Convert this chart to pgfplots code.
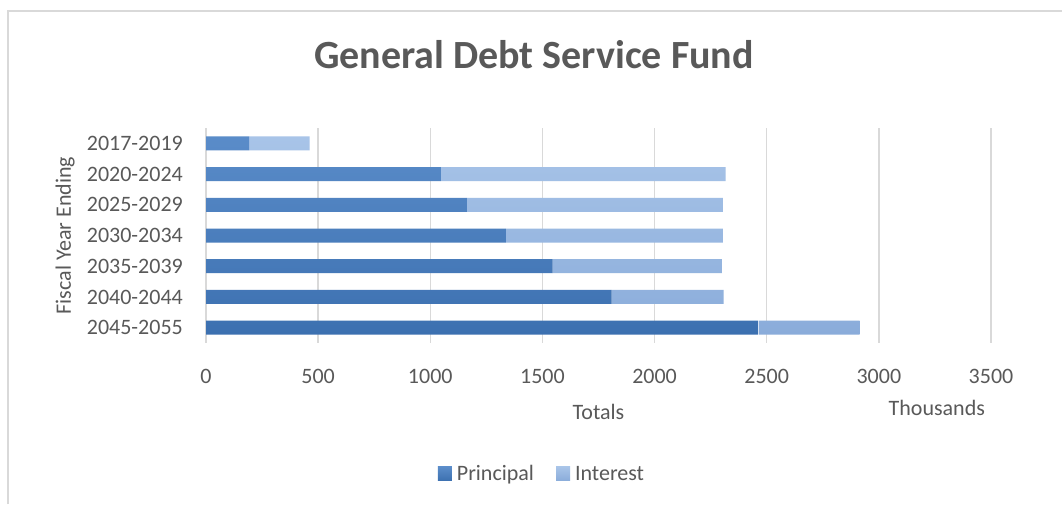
\documentclass[border=0pt]{standalone}
\usepackage{pgfplots}
\pgfplotsset{compat=1.18}
\usepackage{fontspec}
\setmainfont{Carlito}
\definecolor{txt}{HTML}{595959}
\definecolor{gridc}{HTML}{D9D9D9}
\definecolor{pTop}{HTML}{5A8CC9}
\definecolor{pBot}{HTML}{3C70B0}
\definecolor{iTop}{HTML}{A8C4E8}
\definecolor{iBot}{HTML}{8AACDA}
\begin{document}
\begin{tikzpicture}
\useasboundingbox[fill=white] (0,0) rectangle (1062pt,504pt);
\draw[gridc, line width=2pt] (8pt,0) -- (8pt,493pt) -- (1062pt,493pt);
\begin{axis}[
  at={(206pt,161pt)}, anchor=south west,
  scale only axis, width=785pt, height=215pt,
  xbar stacked, bar width=14pt,
  xmin=0, xmax=3500, ymin=-0.5, ymax=6.5,
  y dir=reverse,
  ytick={0,1,2,3,4,5,6},
  yticklabels={2017-2019,2020-2024,2025-2029,2030-2034,2035-2039,2040-2044,2045-2055},
  xtick={0,500,1000,1500,2000,2500,3000,3500},
  /pgf/number format/assume math mode=true,
  /pgf/number format/.cd, 1000 sep={}, /pgfplots/.cd,
  axis x line*=bottom, axis y line*=left,
  x axis line style={draw=none},
  y axis line style={draw=gridc, line width=1.5pt},
  major tick length=0pt,
  xmajorgrids, grid style={draw=gridc, line width=1.5pt},
  tick label style={font=\fontsize{22}{26}\selectfont, text=txt},
  xticklabel style={anchor=base, inner sep=0pt, yshift=-40pt},
  yticklabel style={anchor=east, inner sep=0pt, xshift=-23pt},
  title={General Debt Service Fund},
  title style={at={(axis description cs:0.4178,1.247)}, anchor=base, font=\fontsize{40}{46}\selectfont\bfseries, text=txt, inner sep=0pt},
  xlabel={Totals},
  xlabel style={at={(axis description cs:0.5,-0.3535)}, anchor=base, inner sep=0pt, font=\fontsize{22}{26}\selectfont, text=txt},
  ylabel={Fiscal Year Ending},
  ylabel style={at={(axis description cs:-0.1796,0.5)}, anchor=center, inner sep=0pt, font=\fontsize{22}{26}\selectfont, text=txt},
  legend columns=2,
  legend style={at={(0.428,-0.609)}, anchor=center, draw=none, fill=none,
    font=\fontsize{22}{26}\selectfont, text=txt,
    /tikz/every even column/.append style={column sep=20pt},
    /tikz/every odd column/.append style={column sep=3pt},
    inner sep=0pt},
  legend cell align=left,
  clip=false,
]
\addplot[draw=none, top color=pTop, bottom color=pBot,
  legend image code/.code={\fill[pBot!85!pTop] (0pt,-7pt) rectangle (14pt,7pt);}]
  coordinates {(192,0) (1047,1) (1163,2) (1337,3) (1545,4) (1809,5) (2464,6)};
\addlegendentry{Principal}
\addplot[draw=none, top color=iTop, bottom color=iBot,
  legend image code/.code={\fill[iBot!70!iTop] (0pt,-7pt) rectangle (14pt,7pt);}]
  coordinates {(270,0) (1270,1) (1141,2) (967,3) (755,4) (499,5) (450,6)};
\addlegendentry{Interest}
\node[anchor=base, inner sep=0pt, font=\fontsize{22}{26}\selectfont, text=txt] at (axis description cs:0.931,-0.3395) {Thousands};
\end{axis}
\end{tikzpicture}
\end{document}
